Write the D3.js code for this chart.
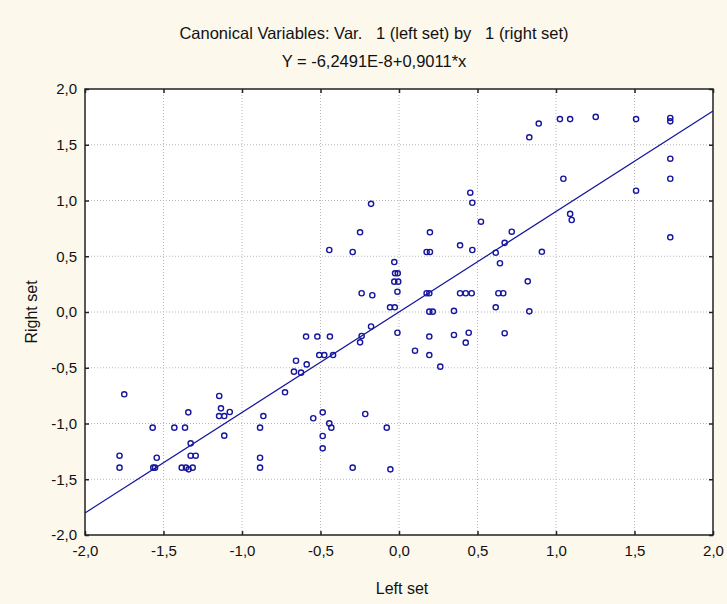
<!DOCTYPE html>
<html>
<head>
<meta charset="utf-8">
<script src="https://cdn.jsdelivr.net/npm/d3@7"></script>
<style>
  body { margin: 0; background: #fcf8ec; }
  svg { display: block; }
  text { font-family: "Liberation Sans", Arial, sans-serif; fill: #111; }
</style>
</head>
<body>
<div id="chart"></div>
<script>
// Canonical variable scores
var leftSet = [
  -0.178, -0.248, 0.197, 0.454, 0.467, 0.522, 0.718,
  0.83, 0.89, 1.025, 1.09, 1.253, 1.51, 1.728, 1.728, 1.728, 1.047, 1.728, 1.51, 1.09, 1.10, 1.728,
  0.673, 0.91, 0.643, 0.82, 0.633, 0.664, 0.83, 0.673,
  -0.444, -0.295, 0.176, 0.197, 0.389, 0.467, 0.616,
  -0.03, -0.025, -0.008, -0.03, -0.005, -0.01, -0.238, -0.17, 0.176, 0.193,
  0.389, 0.425, 0.463, -0.057, -0.027, 0.193, 0.215, 0.35, 0.616,
  -0.01, 0.35, 0.444, 0.425, 0.193, 0.102, 0.193, 0.263,
  -0.178, -0.238, -0.248, -0.592, -0.52, -0.44, -0.508, -0.476, -0.42,
  -0.656, -0.588, -0.669, -0.624,
  -1.75, -1.145, -0.726, -1.342, -1.134, -1.146, -1.113, -1.078, -0.864,
  -1.569, -1.431, -1.363, -0.885, -1.113, -1.327, -1.78, -1.543, -1.327, -1.295, -0.885,
  -1.78, -1.565, -1.554, -1.384, -1.357, -1.34, -1.314, -0.885,
  -0.546, -0.486, -0.444, -0.431, -0.215, -0.078, -0.486, -0.486, -0.295, -0.055
];
var rightSet = [
  0.97, 0.715, 0.715, 1.07, 0.98, 0.81, 0.72,
  1.567, 1.69, 1.73, 1.73, 1.75, 1.73, 1.74, 1.71, 1.375, 1.195, 1.195, 1.088, 0.88, 0.825, 0.67,
  0.62, 0.54, 0.437, 0.275, 0.168, 0.168, 0.006, -0.19,
  0.556, 0.538, 0.538, 0.538, 0.598, 0.556, 0.532,
  0.448, 0.347, 0.347, 0.272, 0.272, 0.182, 0.168, 0.15, 0.168, 0.168,
  0.168, 0.168, 0.168, 0.042, 0.042, 0.003, 0.003, 0.01, 0.042,
  -0.186, -0.206, -0.186, -0.275, -0.22, -0.347, -0.386, -0.49,
  -0.13, -0.215, -0.272, -0.22, -0.22, -0.22, -0.386, -0.386, -0.386,
  -0.437, -0.47, -0.535, -0.544,
  -0.738, -0.753, -0.72, -0.9, -0.864, -0.933, -0.933, -0.897, -0.933,
  -1.037, -1.037, -1.037, -1.037, -1.109, -1.178, -1.289, -1.307, -1.289, -1.289, -1.307,
  -1.396, -1.396, -1.396, -1.396, -1.396, -1.411, -1.396, -1.396,
  -0.953, -0.9, -0.999, -1.037, -0.915, -1.037, -1.112, -1.223, -1.396, -1.411
];
var tickValues = [-2.0, -1.5, -1.0, -0.5, 0.0, 0.5, 1.0, 1.5, 2.0];
var intercept = -6.2491e-8;
var slope = 0.9011;
var titleLines = ["Canonical Variables: Var.   1 (left set) by   1 (right set)", "Y = -6,2491E-8+0,9011*x"];

var width = 727, height = 604;
var margin = {left: 85, right: 14, top: 89, bottom: 69};
var plotW = width - margin.left - margin.right;
var plotH = height - margin.top - margin.bottom;
var blue = "#15159e";

var points = leftSet.map(function(d, i) { return {x: d, y: rightSet[i]}; });

var x = d3.scaleLinear().domain([-2, 2]).range([0, plotW]);
var y = d3.scaleLinear().domain([-2, 2]).range([plotH, 0]);
var fmt = function(d) { return d3.format(".1f")(d).replace("−", "-").replace(".", ","); };

var svg = d3.select("#chart").append("svg")
  .attr("width", width)
  .attr("height", height);

// titles
svg.selectAll(".title")
  .data(titleLines)
  .enter()
  .append("text")
    .attr("x", 374)
    .attr("y", function(d, i) { return 39 + i * 28; })
    .attr("text-anchor", "middle")
    .attr("xml:space", "preserve")
    .style("white-space", "pre")
    .style("font-size", "16.5px")
    .text(function(d) { return d; });

var g = svg.append("g")
  .attr("transform", "translate(" + margin.left + "," + margin.top + ")");

g.append("rect")
  .attr("width", plotW)
  .attr("height", plotH)
  .attr("fill", "white");

// grid
g.selectAll(".vgrid")
  .data(tickValues.slice(1, -1))
  .enter()
  .append("line")
    .attr("x1", function(d) { return x(d); })
    .attr("x2", function(d) { return x(d); })
    .attr("y1", 0)
    .attr("y2", plotH)
    .attr("stroke", "#b8b8b8")
    .attr("stroke-dasharray", "1,2");

g.selectAll(".hgrid")
  .data(tickValues.slice(1, -1))
  .enter()
  .append("line")
    .attr("y1", function(d) { return y(d); })
    .attr("y2", function(d) { return y(d); })
    .attr("x1", 0)
    .attr("x2", plotW)
    .attr("stroke", "#b8b8b8")
    .attr("stroke-dasharray", "1,2");

// axes with inward ticks
var xAxis = g.append("g")
  .attr("transform", "translate(0," + plotH + ")")
  .call(d3.axisBottom(x).tickValues(tickValues).tickSize(-4).tickPadding(10).tickFormat(fmt));
var xTop = g.append("g")
  .call(d3.axisTop(x).tickValues(tickValues).tickSize(-4).tickFormat(""));
var yAxis = g.append("g")
  .call(d3.axisLeft(y).tickValues(tickValues).tickSize(-4).tickPadding(8).tickFormat(fmt));
var yRight = g.append("g")
  .attr("transform", "translate(" + plotW + ",0)")
  .call(d3.axisRight(y).tickValues(tickValues).tickSize(-4).tickFormat(""));

[xAxis, xTop, yAxis, yRight].forEach(function(a) {
  a.select(".domain").remove();
  a.selectAll("line").attr("stroke", "#222").attr("stroke-width", 1.5);
  a.selectAll("text").style("font-size", "15px").attr("fill", "#111");
});

g.append("rect")
  .attr("width", plotW)
  .attr("height", plotH)
  .attr("fill", "none")
  .attr("stroke", "#222")
  .attr("stroke-width", 1.5);

// regression line
g.append("line")
  .attr("x1", x(-2))
  .attr("y1", y(intercept + slope * -2))
  .attr("x2", x(2))
  .attr("y2", y(intercept + slope * 2))
  .attr("stroke", blue)
  .attr("stroke-width", 1.2);

// points
g.selectAll(".pt")
  .data(points)
  .enter()
  .append("circle")
    .attr("cx", function(d) { return x(d.x); })
    .attr("cy", function(d) { return y(d.y); })
    .attr("r", 2.6)
    .attr("fill", "none")
    .attr("stroke", blue)
    .attr("stroke-width", 1.4);

// axis titles
svg.append("text")
  .attr("x", 402)
  .attr("y", 594)
  .attr("text-anchor", "middle")
  .style("font-size", "16px")
  .text("Left set");

svg.append("text")
  .attr("transform", "translate(37," + (margin.top + plotH / 2) + ") rotate(-90)")
  .attr("text-anchor", "middle")
  .style("font-size", "16px")
  .text("Right set");
</script>
</body>
</html>
